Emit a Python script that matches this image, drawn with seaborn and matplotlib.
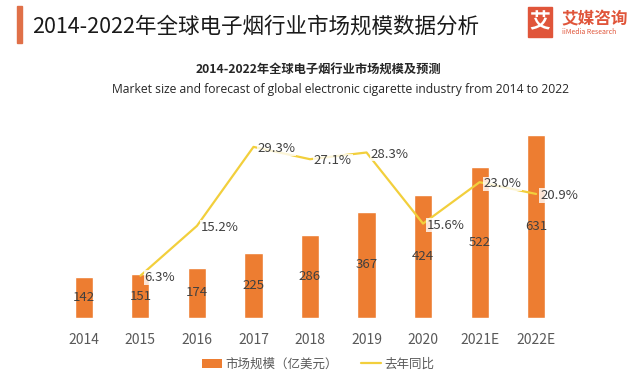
import matplotlib
matplotlib.use("Agg")
import matplotlib.pyplot as plt
import seaborn as sns
import pandas as pd
from matplotlib.patches import Rectangle, Patch
from matplotlib.lines import Line2D

years = ["2014", "2015", "2016", "2017", "2018", "2019", "2020", "2021E", "2022E"]
market_size = [142, 151, 174, 225, 286, 367, 424, 522, 631]
yoy_growth = [None, 6.3, 15.2, 29.3, 27.1, 28.3, 15.6, 23.0, 20.9]

title = "2014-2022年全球电子烟行业市场规模数据分析"
subtitle_cn = "2014-2022年全球电子烟行业市场规模及预测"
subtitle_en = "Market size and forecast of global electronic cigarette industry from 2014 to 2022"
legend_bar = "市场规模（亿美元）"
legend_line = "去年同比"

sns.set_theme(style="white")
plt.rcParams['font.family'] = ['Noto Sans CJK SC', 'DejaVu Sans']

W, H = 640, 375
fig = plt.figure(figsize=(6.4, 3.75), dpi=100)

ax = fig.add_axes([50 / W, 1 - 318 / H, 520 / W, 198 / H])

df = pd.DataFrame({"year": years, "size": market_size, "yoy": yoy_growth})
df["x"] = range(len(years))

bar_color = "#ED7D31"
line_color = "#F2CF3C"

ax.bar(df["x"], df["size"], width=0.32, color=bar_color, zorder=2)
ax.set_xlim(-0.6, len(years) - 0.4)
ax.set_ylim(0, 683)
ax.set_xticks(df["x"])
ax.set_xticklabels(years, color="#595959", fontsize=10)
ax.set_yticks([])
ax.tick_params(axis="x", length=0, pad=11)
for s in ax.spines.values():
    s.set_visible(False)

for xi, v in zip(df["x"], df["size"]):
    ax.text(xi, v / 2, f"{v}", ha="center", va="center", fontsize=9.5, color="#404040", zorder=5)

ax2 = ax.twinx()
line_df = df.dropna(subset=["yoy"])
sns.lineplot(x=line_df["x"], y=line_df["yoy"], ax=ax2, color=line_color, linewidth=1.6, zorder=3)
ax2.set_ylim(-1.25, 34.1)
ax2.set_yticks([])
ax2.set_ylabel("")
ax2.set_xlabel("")
ax.set_xlabel("")
for s in ax2.spines.values():
    s.set_visible(False)

for xi, v in zip(line_df["x"], line_df["yoy"]):
    ax2.text(xi + 0.07, v - 0.3, f"{v:.1f}%", ha="left", va="center", fontsize=9.5, color="#404040",
             bbox=dict(facecolor="white", edgecolor="none", alpha=0.8, pad=0.5), zorder=6)

# Header
fig.patches.append(Rectangle((17 / W, 1 - 43 / H), 5 / W, 37 / H, transform=fig.transFigure,
                             color="#E07048", zorder=3))
fig.text(32 / W, 1 - 27 / H, title, fontsize=15.5, fontweight="medium", color="#1a1a1a",
         ha="left", va="center")

# Logo
fig.patches.append(Rectangle((528 / W, 1 - 37 / H), 24 / W, 30 / H, transform=fig.transFigure,
                             color="#E0553A", zorder=3))
fig.text(540 / W, 1 - 22 / H, "艾", fontsize=15, fontweight="bold", color="white",
         ha="center", va="center", zorder=4)
fig.text(561 / W, 1 - 19 / H, "艾媒咨询", fontsize=12, fontweight="bold", color="#E0553A",
         ha="left", va="center")
fig.text(562 / W, 1 - 32 / H, "iiMedia Research", fontsize=5, color="#E0553A",
         ha="left", va="center")

fig.text(318 / W, 1 - 69 / H, subtitle_cn, fontsize=8.8, fontweight="bold", color="#262626",
         ha="center", va="center")
fig.text(340 / W, 1 - 90 / H, subtitle_en, fontsize=8.7, color="#262626",
         ha="center", va="center", family=["Open Sans", "DejaVu Sans"])

handles = [Patch(facecolor=bar_color, edgecolor="none"),
           Line2D([0], [0], color=line_color, linewidth=1.6)]
fig.legend(handles, [legend_bar, legend_line], loc="center", bbox_to_anchor=(318 / W, 1 - 364 / H),
           ncol=2, frameon=False, fontsize=9, handlelength=1.6, handleheight=0.7,
           columnspacing=1.8, handletextpad=0.3, labelcolor="#595959")

fig.savefig("out.png", dpi=100)
